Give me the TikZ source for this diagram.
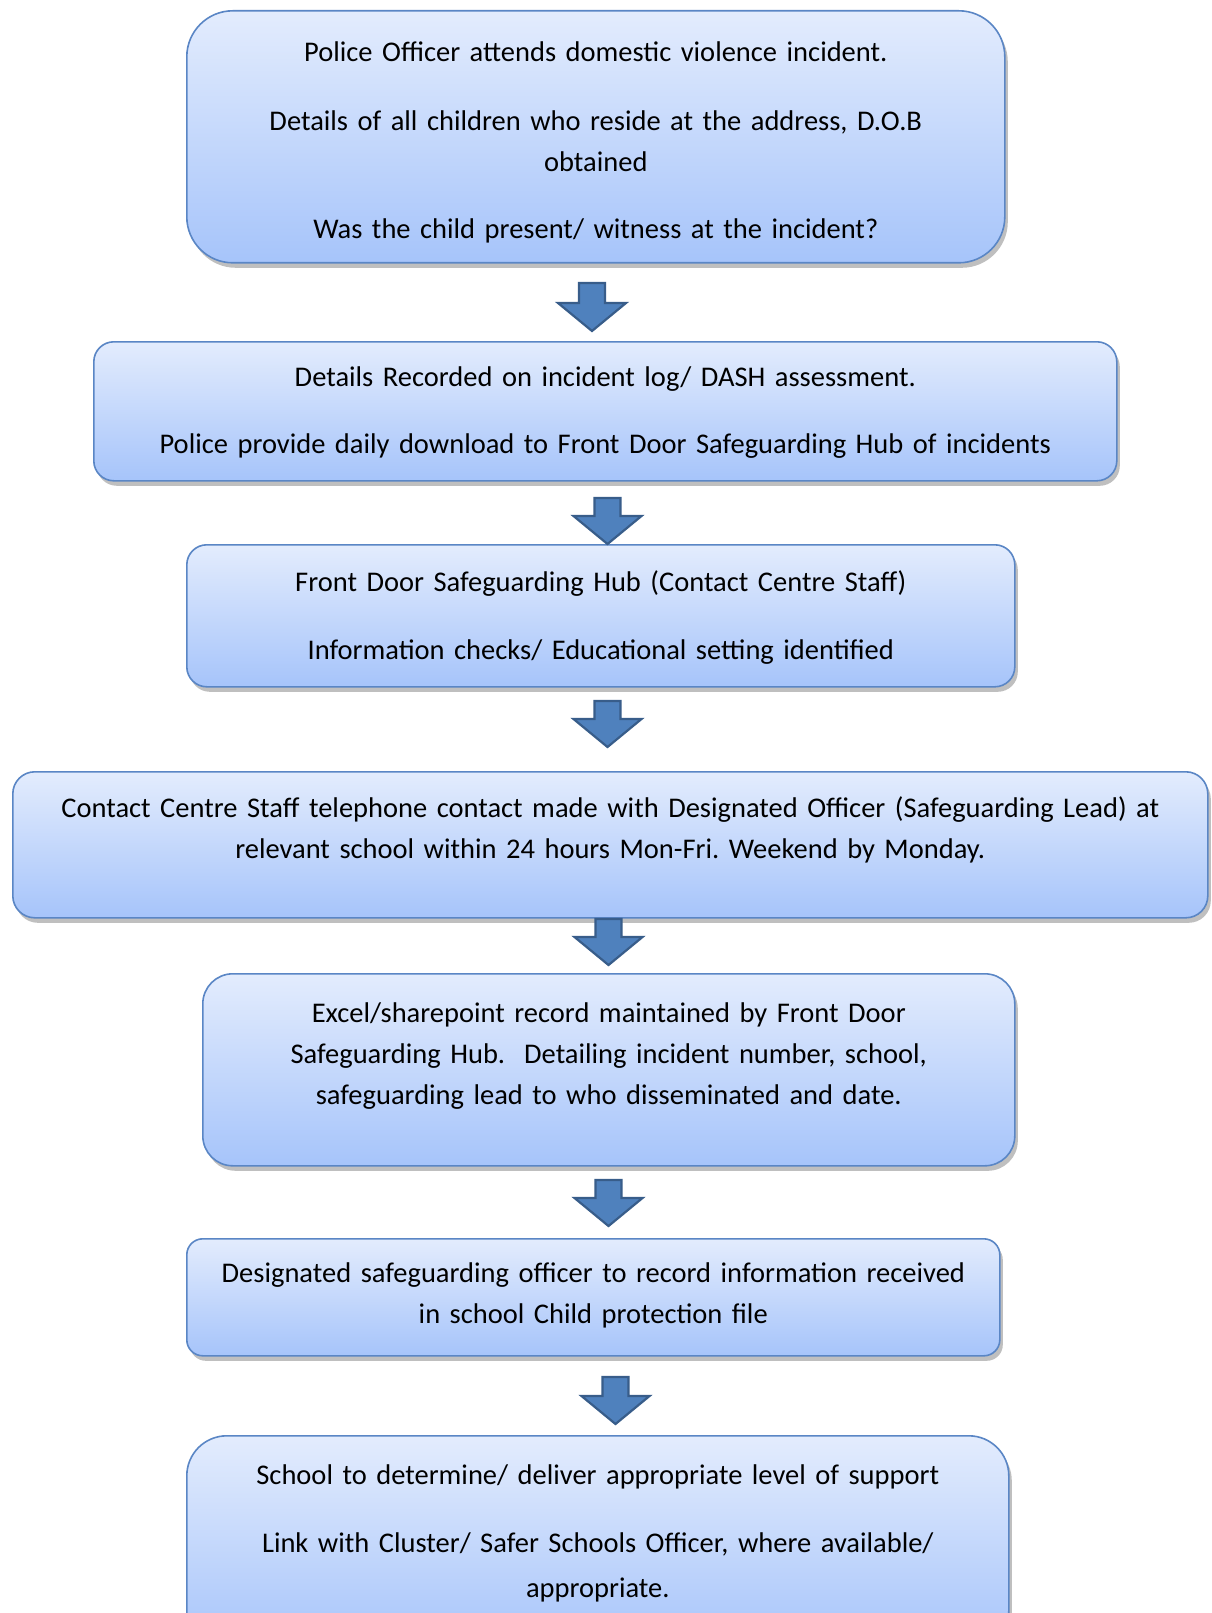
\documentclass[tikz,border=0pt]{standalone}
\usepackage{fontspec}
\setmainfont{Carlito}
\usetikzlibrary{shadows}
\definecolor{boxtop}{RGB}{227,236,253}
\definecolor{boxbot}{RGB}{166,196,250}
\definecolor{boxline}{RGB}{90,134,197}
\definecolor{arrfill}{RGB}{79,129,189}
\definecolor{arrline}{RGB}{56,93,138}
\frenchspacing
\begin{document}
\begin{tikzpicture}[x=1pt,y=-1pt,
  box/.style={draw=boxline, line width=1.6pt, top color=boxtop, bottom color=boxbot,
    anchor=north west, inner sep=0pt,
    drop shadow={shadow xshift=3pt, shadow yshift=-5pt, opacity=0.25, fill=black}},
  txt/.style={anchor=base, align=center, inner sep=0pt,
    font=\fontsize{28.5}{41}\selectfont},
  barrow/.style={fill=arrfill, draw=arrline, line width=2.2pt, line join=miter}]
\useasboundingbox (0,0) rectangle (1211,1613);
\clip (0,0) rectangle (1211,1613);
\fill[white] (0,0) rectangle (1211,1613);

% boxes
\node[box, rounded corners=46pt, minimum width=818pt, minimum height=252pt] (b1) at (186,10) {};
\node[box, rounded corners=20pt, minimum width=1023pt, minimum height=139pt] (b2) at (93,341) {};
\node[box, rounded corners=20pt, minimum width=828pt, minimum height=142pt] (b3) at (186,544) {};
\node[box, rounded corners=22pt, minimum width=1195pt, minimum height=146pt] (b4) at (12,771) {};
\node[box, rounded corners=30pt, minimum width=812pt, minimum height=192pt] (b5) at (202,973) {};
\node[box, rounded corners=16pt, minimum width=813pt, minimum height=117pt] (b6) at (186,1238) {};
\node[box, rounded corners=40pt, minimum width=822pt, minimum height=215pt] (b7) at (186,1435) {};

% texts
\node[txt, text width=800pt] (t1) at (b1.center |- 0,62)
  {Police Officer attends domestic violence incident.\\[28pt]
   Details of all children who reside at the address, D.O.B\\
   obtained\\[26pt]
   Was the child present/ witness at the incident?};
\node[txt, text width=1010pt] (t2) at (b2.center |- 0,386)
  {Details Recorded on incident log/ DASH assessment.\\[26pt]
   Police provide daily download to Front Door Safeguarding Hub of incidents};
\node[txt, text width=810pt] (t3) at (b3.center |- 0,591)
  {Front Door Safeguarding Hub (Contact Centre Staff)\\[27pt]
   Information checks/ Educational setting identified};
\node[txt, text width=1180pt] (t4) at (b4.center |- 0,817)
  {Contact Centre Staff telephone contact made with Designated Officer (Safeguarding Lead) at\\
   relevant school within 24 hours Mon-Fri. Weekend by Monday.};
\node[txt, text width=800pt] (t5) at (b5.center |- 0,1022)
  {Excel/sharepoint record maintained by Front Door\\
   Safeguarding Hub.\ \ Detailing incident number, school,\\
   safeguarding lead to who disseminated and date.};
\node[txt, text width=800pt] (t6) at (b6.center |- 0,1282)
  {Designated safeguarding officer to record information received\\
   in school Child protection file};
\node[txt, text width=810pt] (t7) at (b7.center |- 0,1484)
  {School to determine/ deliver appropriate level of support\\[27pt]
   Link with Cluster/ Safer Schools Officer, where available/\\[4pt]
   appropriate.};

% block arrows
\coordinate (a1) at (592,283);
\coordinate (a2) at (607.5,498);
\coordinate (a3) at (607.5,701);
\coordinate (a4) at (608.5,919);
\coordinate (a5) at (608.5,1180);
\coordinate (a6) at (615.5,1377);
\foreach \a/\len in {a1/20, a2/18, a3/18, a4/18, a5/18, a6/19}{
  \draw[barrow] (\a) ++(-13,0) -- ++(26,0) -- ++(0,\len) -- ++(21,0)
     -- ++(-34,28) -- ++(-34,-28) -- ++(21,0) -- cycle;
}
\end{tikzpicture}
\end{document}
